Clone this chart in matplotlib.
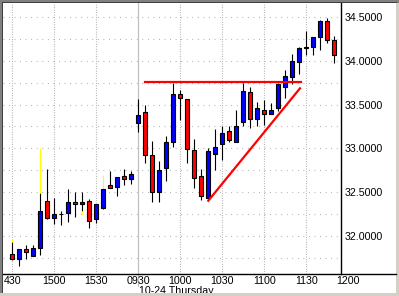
import matplotlib
matplotlib.use('Agg')
import matplotlib.pyplot as plt
from matplotlib.patches import Rectangle
from matplotlib.lines import Line2D

plt.rcParams['font.family'] = ['Liberation Sans', 'DejaVu Sans']

# 5 minute candles, previous afternoon then 10-24 morning
opens  = [31.79, 31.74, 31.85, 31.77, 31.86, 32.40, 32.20, 32.25, 32.26, 32.39,
          32.36, 32.40, 32.19, 32.32, 32.58, 32.56, 32.68, 32.65, 33.29, 33.41,
          32.92, 32.50, 32.77, 33.07, 33.62, 33.56, 32.98, 32.68, 32.43, 32.93,
          33.05, 33.20, 33.07, 33.30, 33.64, 33.34, 33.44, 33.39, 33.46, 33.70,
          33.82, 33.99, 34.15, 34.16, 34.27, 34.46, 34.24]
highs  = [31.93, 31.85, 31.89, 31.89, 32.49, 32.76, 32.43, 32.28, 32.54, 32.50,
          32.50, 32.42, 32.36, 32.54, 32.74, 32.67, 32.76, 32.74, 33.56, 33.50,
          33.08, 32.86, 33.14, 33.75, 33.67, 33.56, 33.11, 32.76, 33.00, 33.22,
          33.26, 33.25, 33.44, 33.75, 33.70, 33.53, 33.55, 33.52, 33.75, 33.90,
          34.08, 34.16, 34.34, 34.27, 34.47, 34.49, 34.28]
lows   = [31.72, 31.65, 31.74, 31.77, 31.78, 32.19, 32.14, 32.12, 32.16, 32.22,
          32.28, 32.09, 32.15, 32.31, 32.55, 32.46, 32.58, 32.59, 33.19, 32.83,
          32.39, 32.39, 32.63, 33.02, 33.32, 32.83, 32.55, 32.41, 32.41, 32.75,
          32.87, 33.07, 33.07, 33.25, 33.23, 33.26, 33.27, 33.39, 33.43, 33.57,
          33.74, 33.85, 34.07, 34.07, 34.12, 34.20, 33.98]
closes = [31.74, 31.85, 31.81, 31.86, 32.28, 32.20, 32.25, 32.25, 32.39, 32.36,
          32.39, 32.17, 32.36, 32.54, 32.55, 32.67, 32.65, 32.71, 33.38, 32.92,
          32.50, 32.75, 33.07, 33.62, 33.57, 32.99, 32.66, 32.45, 32.97, 33.02,
          33.18, 33.09, 33.26, 33.66, 33.34, 33.46, 33.39, 33.44, 33.73, 33.83,
          34.00, 34.15, 34.16, 34.27, 34.46, 34.24, 34.07]

# yellow wick extensions (candle index, price)
ext_idx = [0, 4, 10, 13]
ext_val = [31.96, 33.00, 32.25, 32.69]

time_pos = [0, 6, 12, 18, 24, 30, 36, 42, 48]
time_labels = ['430', '1500', '1530', '0930', '1000', '1030', '1100', '1130', '1200']

# drawn trend lines (index, price)
resist_x = [19, 41.2]
resist_y = [33.76, 33.76]
support_x = [28, 41.1]
support_y = [32.40, 33.685]

fig = plt.figure(figsize=(3.99, 2.96), dpi=100)
fig.patch.set_facecolor('white')
ax = fig.add_axes([3/399, 22/296, 338/399, 271/296])
ax.set_xlim(-1.33, 46.96)
ax.set_ylim(31.563, 34.66)

# grid
for y in [31.75 + 0.25*k for k in range(12)]:
    ax.axhline(y, color='#a0a0a0', lw=0.8, ls=(0, (0.7, 4.3)), zorder=0)
for p in time_pos[:-1]:
    if p == 18:
        ax.axvline(p, color='#c0c0c0', lw=0.9, ymin=-0.045, clip_on=False, zorder=0)
    else:
        ax.axvline(p, color='#a0a0a0', lw=0.8, ls=(0, (0.7, 1.5)), zorder=0)

# candles
n = len(opens)
xs = list(range(n))
ax.vlines(xs, lows, highs, color='black', lw=0.8, zorder=2)
for i, v in zip(ext_idx, ext_val):
    if v > highs[i]:
        ax.vlines(i, highs[i], v, color='#ffff00', lw=0.8, zorder=2)
    else:
        ax.vlines(i, v, lows[i], color='#ffff00', lw=0.8, zorder=2)
for i in xs:
    o, c = opens[i], closes[i]
    col = '#0000ff' if c >= o else '#ff0000'
    ax.bar(i, abs(c - o), bottom=min(o, c), width=0.6, color=col,
           edgecolor='black', linewidth=0.8, zorder=3)

ax.plot(resist_x, resist_y, color='#ff0000', lw=1.6, zorder=4)
ax.plot(support_x, support_y, color='#ff0000', lw=1.6, zorder=4)

# axes
for s in ['top', 'left', 'bottom']:
    ax.spines[s].set_visible(False)
ax.spines['right'].set_color('black')
ax.spines['right'].set_linewidth(1.0)
ax.yaxis.tick_right()
ax.set_yticks([32.0, 32.5, 33.0, 33.5, 34.0, 34.5])
ax.set_yticklabels(['%.4f' % v for v in [32.0, 32.5, 33.0, 33.5, 34.0, 34.5]])
ax.tick_params(axis='y', length=0, pad=2.5, labelsize=7.7)
ax.set_xticks([])
for p, lab in zip(time_pos, time_labels):
    ax.text(p, -0.006, lab, transform=ax.get_xaxis_transform(), ha='center',
            va='top', fontsize=7.7, clip_on=False)
ax.text(18.1, -0.045, '10-24 Thursday', transform=ax.get_xaxis_transform(),
        ha='left', va='top', fontsize=7.7, clip_on=False)

# bottom axis line across the whole width
fig.add_artist(Line2D([3/399, 396/399], [22/296, 22/296], color='black', lw=1.0))

# window frame
fig.add_artist(Rectangle((0, 0), 3/399, 1, transform=fig.transFigure, color='#808080', lw=0))
fig.add_artist(Rectangle((0, 293/296), 1, 3/296, transform=fig.transFigure, color='#808080', lw=0))
fig.add_artist(Rectangle((2/399, 0), 1/399, 294/296, transform=fig.transFigure, color='#404040', lw=0))
fig.add_artist(Rectangle((2/399, 293/296), 395/399, 1/296, transform=fig.transFigure, color='#404040', lw=0))
fig.add_artist(Rectangle((396/399, 0), 3/399, 293/296, transform=fig.transFigure, color='#d4d0c8', lw=0))
fig.add_artist(Rectangle((0, 0), 1, 3/296, transform=fig.transFigure, color='#d4d0c8', lw=0))

fig.savefig('out.png', dpi=100)
